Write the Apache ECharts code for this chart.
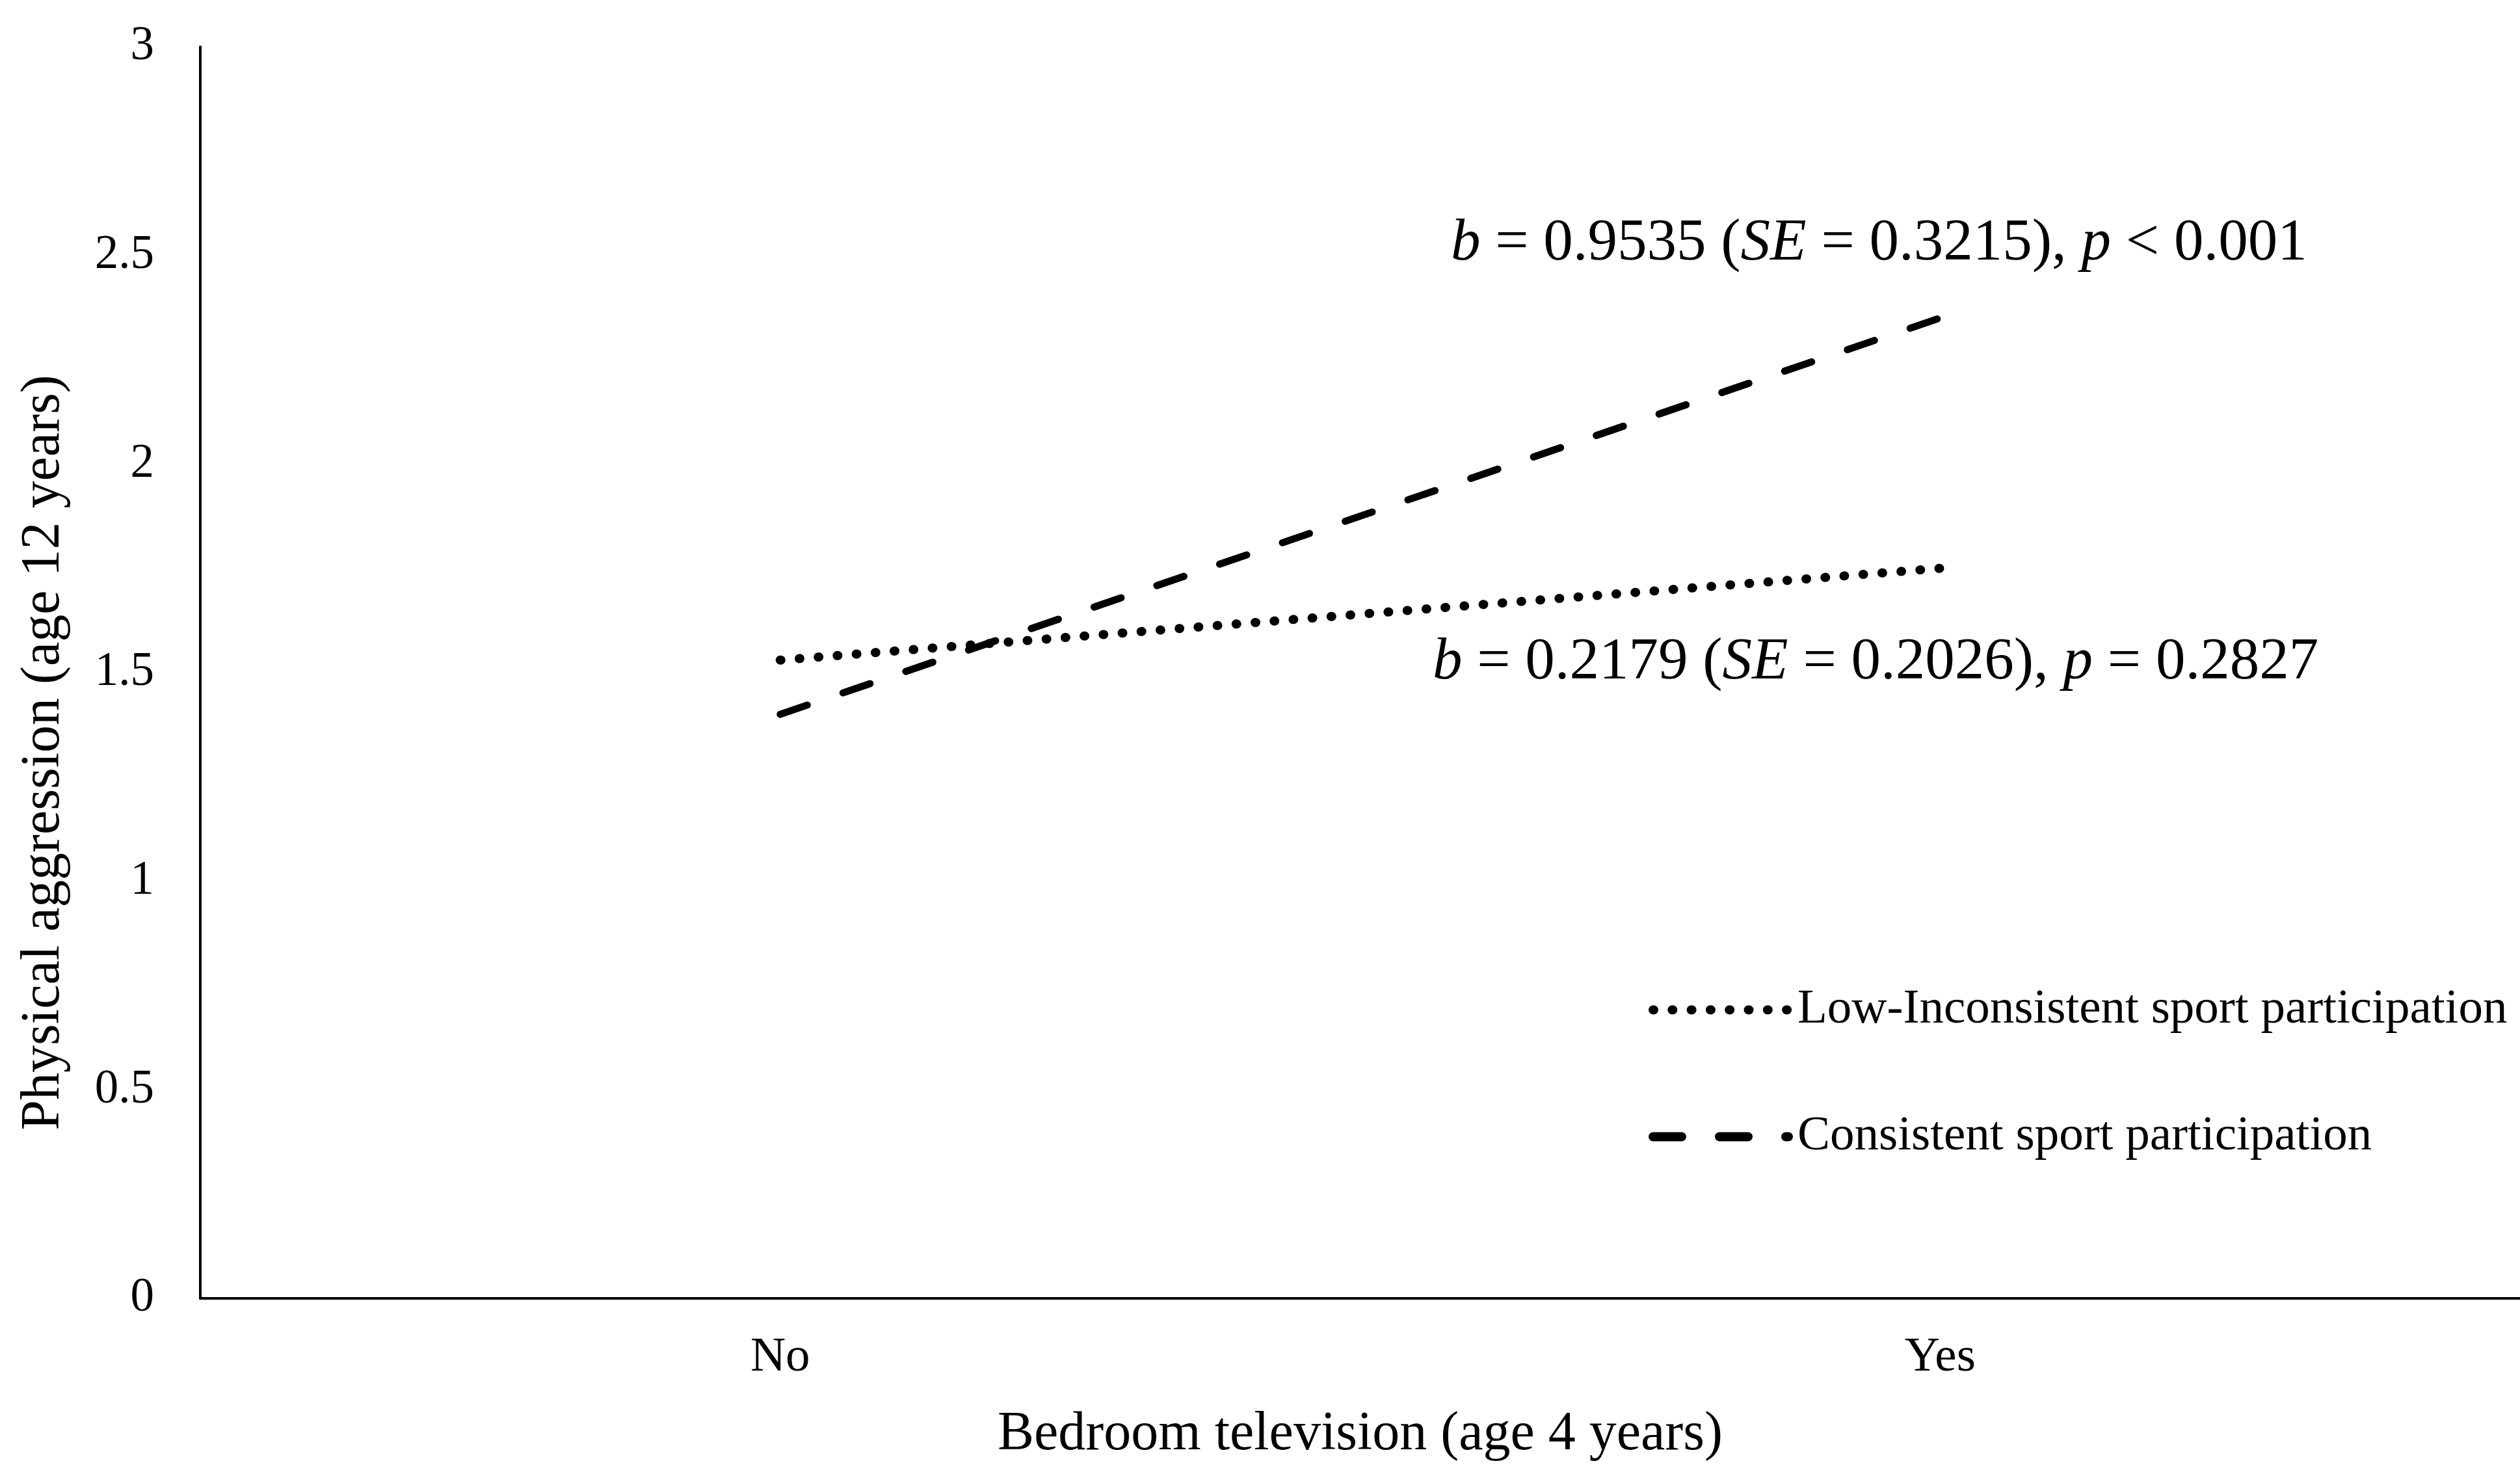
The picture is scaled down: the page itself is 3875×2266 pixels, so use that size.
<!DOCTYPE html>
<html>
<head>
<meta charset="utf-8">
<script src="https://cdn.jsdelivr.net/npm/echarts@6/dist/echarts.min.js"></script>
<style>
html,body{margin:0;padding:0;background:#fff;}
#chart{width:3875px;height:2266px;}
</style>
</head>
<body>
<div id="chart"></div>
<script>
const categories = ['No', 'Yes'];
const lowInconsistent = [1.53, 1.75];
const consistent = [1.40, 2.35];
const seriesNames = ['Low-Inconsistent sport participation', 'Consistent sport participation'];
const yTicks = { min: 0, max: 3, interval: 0.5 };
const xTitle = 'Bedroom television (age 4 years)';
const yTitle = 'Physical aggression (age 12 years)';
const annotationHigh = '{i|b} = 0.9535 ({i|SE} = 0.3215), {i|p} < 0.001';
const annotationLow = '{i|b} = 0.2179 ({i|SE} = 0.2026), {i|p} = 0.2827';

const FONT = '"Liberation Serif", "Times New Roman", serif';
const chart = echarts.init(document.getElementById('chart'), null, { renderer: 'canvas' });

const dottedStyle = { color: '#000', width: 14, type: [1, 28.3], cap: 'round' };
const dashedStyle = { color: '#000', width: 11, type: [44, 58], cap: 'round' };

const option = {
  backgroundColor: '#fff',
  animation: false,
  grid: { left: 308, right: 0, top: 72, bottom: 270, containLabel: false },
  xAxis: {
    type: 'category',
    data: categories,
    boundaryGap: true,
    axisLine: { show: true, lineStyle: { color: '#000', width: 4 } },
    axisTick: { show: false },
    splitLine: { show: false },
    axisLabel: { color: '#000', fontFamily: FONT, fontSize: 75, margin: 54 },
    name: xTitle,
    nameLocation: 'middle',
    nameGap: 168,
    nameTextStyle: { color: '#000', fontFamily: FONT, fontSize: 84 }
  },
  yAxis: {
    type: 'value',
    min: yTicks.min,
    max: yTicks.max,
    interval: yTicks.interval,
    axisLine: { show: true, lineStyle: { color: '#000', width: 4 } },
    axisTick: { show: false },
    splitLine: { show: false },
    axisLabel: { color: '#000', fontFamily: FONT, fontSize: 73, margin: 71 }
  },
  legend: {
    orient: 'vertical',
    left: 2530,
    top: 1510,
    itemWidth: 208,
    itemHeight: 20,
    itemGap: 120,
    textStyle: { color: '#000', fontFamily: FONT, fontSize: 75, padding: [0, 0, 0, 9] },
    data: [
      { name: seriesNames[0], lineStyle: { width: 14 }, itemStyle: { opacity: 0 } },
      { name: seriesNames[1], lineStyle: { width: 14 }, itemStyle: { opacity: 0 } }
    ]
  },
  series: [
    {
      name: seriesNames[0],
      type: 'line',
      data: lowInconsistent,
      symbol: 'none',
      lineStyle: dottedStyle,
      itemStyle: { color: '#000' },
      z: 3
    },
    {
      name: seriesNames[1],
      type: 'line',
      data: consistent,
      symbol: 'none',
      lineStyle: dashedStyle,
      itemStyle: { color: '#000' },
      z: 2
    }
  ],
  graphic: [
    {
      type: 'text',
      x: 68, y: 1157,
      rotation: Math.PI / 2,
      style: {
        text: yTitle,
        fontFamily: FONT, fontSize: 84, fill: '#000',
        textAlign: 'center', textVerticalAlign: 'middle'
      }
    },
    {
      type: 'text',
      x: 2231, y: 375,
      style: {
        text: annotationHigh,
        fontFamily: FONT, fontSize: 91, fill: '#000',
        textAlign: 'left', textVerticalAlign: 'middle',
        rich: { i: { fontStyle: 'italic', fontFamily: FONT, fontSize: 91, fill: '#000' } }
      }
    },
    {
      type: 'text',
      x: 2203, y: 1019,
      style: {
        text: annotationLow,
        fontFamily: FONT, fontSize: 91, fill: '#000',
        textAlign: 'left', textVerticalAlign: 'middle',
        rich: { i: { fontStyle: 'italic', fontFamily: FONT, fontSize: 91, fill: '#000' } }
      }
    }
  ]
};
chart.setOption(option);
</script>
</body>
</html>
